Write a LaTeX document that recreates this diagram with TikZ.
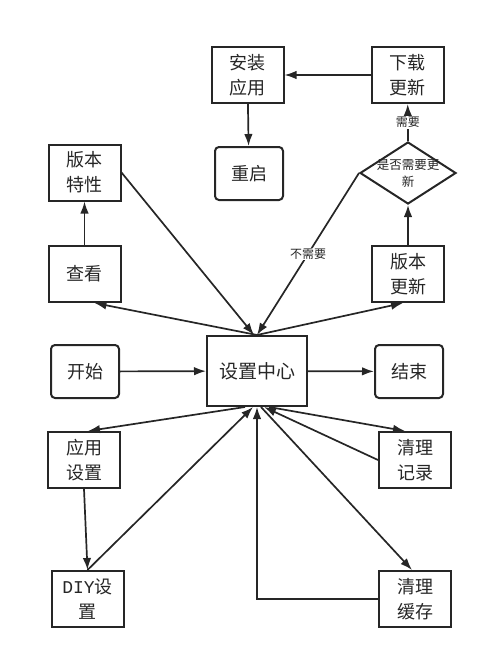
\documentclass[tikz,border=0pt]{standalone}
\usepackage{fontspec}
\setmainfont{Noto Sans CJK SC}
\newfontfamily\latinmono{Liberation Mono}
\usetikzlibrary{arrows.meta,positioning,shapes.geometric}
\definecolor{ink}{HTML}{262626}

\begin{document}
\begin{tikzpicture}[
  x=1pt,y=-1pt,
  font=\fontsize{18}{25}\selectfont,
  box/.style={draw=ink,line width=2pt,minimum width=72pt,minimum height=56pt,align=center,text=ink,inner sep=2pt},
  rbox/.style={box,rounded corners=4pt,minimum width=68pt,minimum height=53pt},
  ask/.style={diamond,draw=ink,line width=2pt,minimum width=96pt,minimum height=62pt,inner sep=0pt,align=center,text=ink,font=\fontsize{12.5}{17}\selectfont},
  arr/.style={-{Latex[length=12pt,width=8.5pt]},line width=1.7pt,draw=ink},
  lab/.style={font=\fontsize{12}{14}\selectfont,text=ink,fill=white,inner sep=1pt}
]
\useasboundingbox (0,0) rectangle (488,658);

% top row
\node[box] (install) at (247.5,75) {安装\\应用};
\node[box] (download) at (407.5,75) {下载\\更新};
\node[rbox] (reboot) at (249,173.5) {重启};
\node[ask] (need) at (408,173) {\makebox[0pt]{是否需要更}\\\makebox[0pt]{新}};

% left column
\node[box] (feature) at (84.5,172.5) {版本\\特性};
\node[box] (view) at (84.5,274) {查看};
\node[box] (update) at (408,274) {版本\\更新};

% middle row
\node[rbox] (start) at (85,371.5) {开始};
\node[box,minimum width=100pt,minimum height=70pt,font=\fontsize{19}{25}\selectfont] (center) at (257,371) {设置中心};
\node[rbox] (finish) at (409,371.5) {结束};

% bottom rows
\node[box] (appset) at (84,460) {应用\\设置};
\node[box] (cleanlog) at (415,460) {清理\\记录};
\node[box] (diy) at (87.5,599) {{\latinmono DIY}设\\置};
\node[box] (cleancache) at (415,599) {清理\\缓存};

\draw[arr] (download) -- (install);
\draw[arr] (install) -- (reboot);
\draw[arr] (need.north) -- node[lab]{需要} (download);
\draw[arr] (update) -- (need.south);
\draw[arr] (need.west) -- node[lab]{不需要} (center.north);
\draw[arr] (view) -- (feature);
\draw[arr] (feature.east) -- ([xshift=-3pt]center.north);
\draw[arr] (center.north) -- ([xshift=10pt]view.south);
\draw[arr] (center.north) -- ([xshift=-5pt]update.south);

\draw[arr] (start) -- (center);
\draw[arr] (center) -- (finish);

\draw[arr] ([xshift=-12pt]center.south) -- ([xshift=4pt]appset.north);
\draw[arr] ([xshift=12pt]center.south) -- ([xshift=-10pt]cleanlog.north);
\draw[arr] (cleanlog.west) -- ([xshift=7pt]center.south);
\draw[arr] (appset.south) -- (diy.north);
\draw[arr] (diy.north) -- ([xshift=-4pt]center.south);
\draw[arr] ([xshift=4pt]center.south) -- ([xshift=-3pt]cleancache.north);
\draw[arr] (cleancache.west) -| (center.south);
\end{tikzpicture}
\end{document}
